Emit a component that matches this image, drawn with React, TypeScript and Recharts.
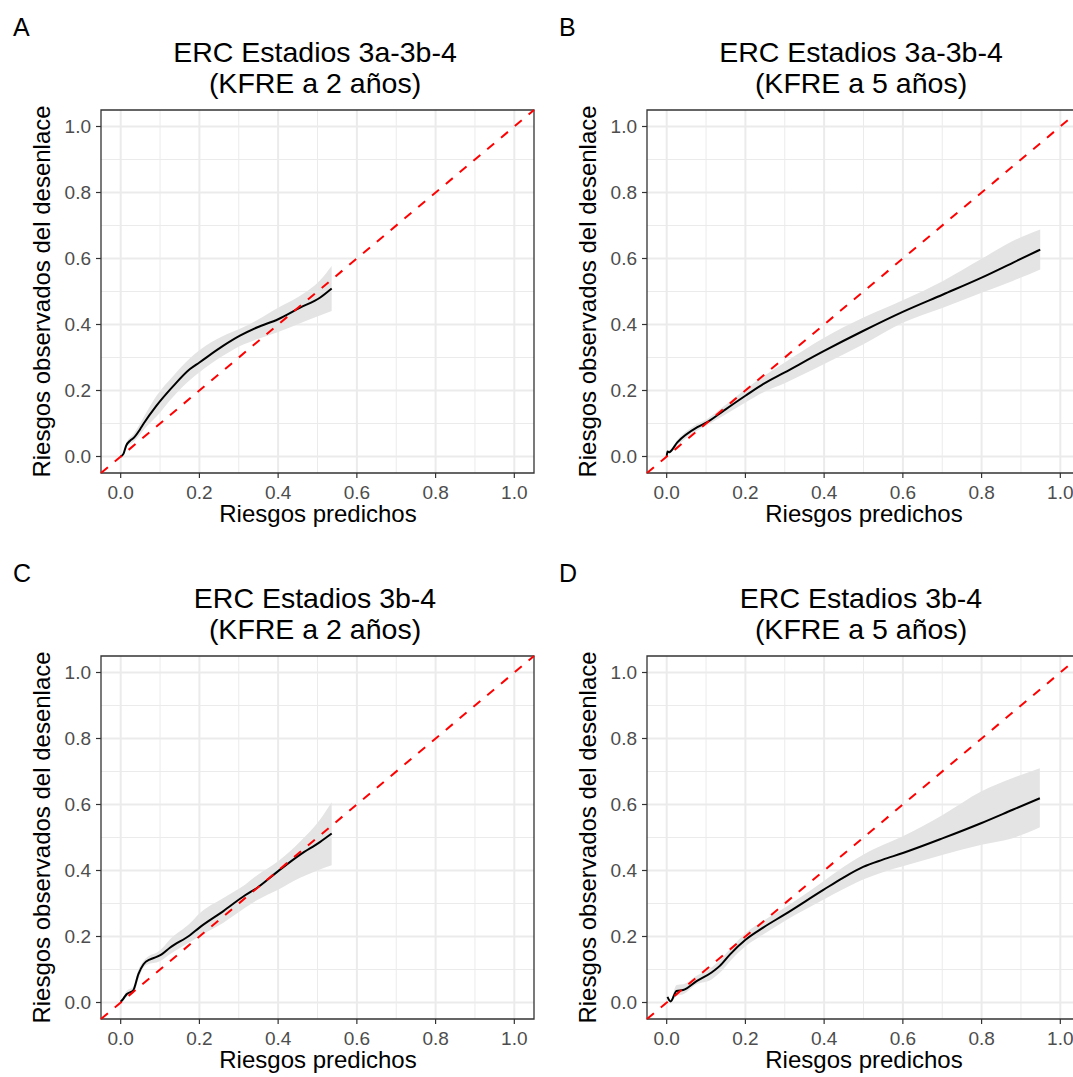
import React from "react";
import {
	Area,
	CartesianGrid,
	ComposedChart,
	Line,
	ReferenceArea,
	ReferenceLine,
	XAxis,
	YAxis,
} from "recharts";

// shared axis setup (both axes are risks on 0..1)
const AXIS_DOMAIN: [number, number] = [-0.05, 1.05];
const MAJOR_TICKS = [0, 0.2, 0.4, 0.6, 0.8, 1.0];
const MINOR_TICKS = [0.1, 0.3, 0.5, 0.7, 0.9];

// A: ERC 3a-3b-4, KFRE 2 años
const predA = [0, 0.007, 0.014, 0.024, 0.032, 0.049, 0.058, 0.091, 0.134, 0.176, 0.2, 0.26, 0.303, 0.346, 0.4, 0.456, 0.506, 0.536];
const obsA = [0, 0.008, 0.033, 0.048, 0.055, 0.082, 0.099, 0.154, 0.214, 0.265, 0.285, 0.335, 0.366, 0.391, 0.416, 0.451, 0.481, 0.509];
const lowA = [0, 0.006, 0.026, 0.038, 0.044, 0.066, 0.08, 0.121, 0.182, 0.232, 0.255, 0.305, 0.335, 0.355, 0.377, 0.404, 0.427, 0.441];
const highA = [0, 0.011, 0.04, 0.058, 0.067, 0.099, 0.118, 0.184, 0.245, 0.298, 0.322, 0.365, 0.387, 0.413, 0.451, 0.487, 0.533, 0.577];

// B: ERC 3a-3b-4, KFRE 5 años
const predB = [0, 0.002, 0.006, 0.027, 0.078, 0.103, 0.145, 0.2, 0.246, 0.3, 0.4, 0.5, 0.601, 0.702, 0.8, 0.879, 0.949];
const obsB = [0, 0.015, 0.013, 0.043, 0.089, 0.104, 0.139, 0.184, 0.22, 0.255, 0.32, 0.381, 0.439, 0.491, 0.542, 0.587, 0.627];
const lowB = [0, 0.01, 0.008, 0.033, 0.079, 0.095, 0.124, 0.164, 0.195, 0.222, 0.28, 0.34, 0.406, 0.451, 0.496, 0.532, 0.567];
const highB = [0, 0.02, 0.018, 0.05, 0.099, 0.114, 0.152, 0.204, 0.243, 0.285, 0.36, 0.421, 0.474, 0.532, 0.599, 0.653, 0.688];

// C: ERC 3b-4, KFRE 2 años
const predC = [0, 0.007, 0.015, 0.032, 0.045, 0.058, 0.075, 0.091, 0.104, 0.125, 0.176, 0.2, 0.261, 0.316, 0.346, 0.4, 0.456, 0.506, 0.536];
const obsC = [0.002, 0.012, 0.025, 0.037, 0.086, 0.116, 0.131, 0.138, 0.146, 0.166, 0.204, 0.227, 0.277, 0.325, 0.347, 0.398, 0.448, 0.486, 0.512];
const lowC = [0, 0.006, 0.017, 0.027, 0.07, 0.106, 0.118, 0.121, 0.128, 0.146, 0.183, 0.201, 0.242, 0.287, 0.31, 0.342, 0.378, 0.403, 0.416];
const highC = [0.004, 0.018, 0.035, 0.048, 0.1, 0.126, 0.143, 0.151, 0.163, 0.191, 0.24, 0.27, 0.317, 0.357, 0.385, 0.428, 0.488, 0.554, 0.607];

// D: ERC 3b-4, KFRE 5 años
const predD = [0.002, 0.01, 0.025, 0.042, 0.076, 0.114, 0.135, 0.161, 0.201, 0.245, 0.3, 0.399, 0.448, 0.499, 0.549, 0.6, 0.702, 0.8, 0.879, 0.948];
const obsD = [0.017, 0.003, 0.035, 0.038, 0.065, 0.091, 0.111, 0.146, 0.191, 0.227, 0.267, 0.342, 0.378, 0.411, 0.433, 0.453, 0.498, 0.544, 0.584, 0.619];
const lowD = [0.012, 0, 0.02, 0.025, 0.055, 0.07, 0.09, 0.125, 0.171, 0.206, 0.247, 0.312, 0.343, 0.373, 0.395, 0.413, 0.448, 0.478, 0.498, 0.531];
const highD = [0.022, 0.008, 0.053, 0.055, 0.081, 0.106, 0.128, 0.162, 0.211, 0.247, 0.287, 0.368, 0.41, 0.448, 0.477, 0.504, 0.569, 0.64, 0.68, 0.71];

type PanelDef = {
	letter: string;
	title: string;
	subtitle: string;
	pred: number[];
	obs: number[];
	low: number[];
	high: number[];
};

const PANELS: PanelDef[] = [
	{letter: "A", title: "ERC Estadios 3a-3b-4", subtitle: "(KFRE a 2 años)", pred: predA, obs: obsA, low: lowA, high: highA},
	{letter: "B", title: "ERC Estadios 3a-3b-4", subtitle: "(KFRE a 5 años)", pred: predB, obs: obsB, low: lowB, high: highB},
	{letter: "C", title: "ERC Estadios 3b-4", subtitle: "(KFRE a 2 años)", pred: predC, obs: obsC, low: lowC, high: highC},
	{letter: "D", title: "ERC Estadios 3b-4", subtitle: "(KFRE a 5 años)", pred: predD, obs: obsD, low: lowD, high: highD},
];

const CELL = 546;
const FONT = "'Liberation Sans', Arial, sans-serif";
const TICK_STYLE = {fontSize: 19, fill: "#4d4d4d"};

const fmt = (v: number) => v.toFixed(1);

function CalibrationPanel({panel}: { panel: PanelDef }) {
	const rows = panel.pred.map((x, i) => ({
		x,
		obs: panel.obs[i],
		band: [panel.low[i], panel.high[i]],
	}));

	return (
		<div style={{position: "relative", width: CELL, height: CELL}}>
			<ComposedChart width={CELL} height={CELL} data={rows} margin={{top: 110, right: 12, left: 0, bottom: 0}}>
				<CartesianGrid stroke="#ebebeb" strokeWidth={1} verticalValues={MINOR_TICKS} horizontalValues={MINOR_TICKS}/>
				<CartesianGrid stroke="#ebebeb" strokeWidth={2} verticalValues={MAJOR_TICKS} horizontalValues={MAJOR_TICKS}/>
				<XAxis
					type="number"
					dataKey="x"
					domain={AXIS_DOMAIN}
					ticks={MAJOR_TICKS}
					interval={0}
					allowDataOverflow
					tickFormatter={fmt}
					height={73}
					tickSize={5}
					tickMargin={8}
					axisLine={false}
					tickLine={{stroke: "#333333", strokeWidth: 1.2}}
					tick={TICK_STYLE}
				/>
				<YAxis
					type="number"
					domain={AXIS_DOMAIN}
					ticks={MAJOR_TICKS}
					interval={0}
					allowDataOverflow
					tickFormatter={fmt}
					width={101}
					tickSize={5}
					tickMargin={5}
					axisLine={false}
					tickLine={{stroke: "#333333", strokeWidth: 1.2}}
					tick={TICK_STYLE}
				/>
				<Area
					type="monotone"
					dataKey="band"
					stroke="none"
					fill="#e4e4e4"
					fillOpacity={1}
					isAnimationActive={false}
				/>
				<Line
					type="monotone"
					dataKey="obs"
					stroke="#000000"
					strokeWidth={2}
					dot={false}
					activeDot={false}
					isAnimationActive={false}
				/>
				<ReferenceLine
					segment={[{x: AXIS_DOMAIN[0], y: AXIS_DOMAIN[0]}, {x: AXIS_DOMAIN[1], y: AXIS_DOMAIN[1]}]}
					stroke="#ff0000"
					strokeWidth={2}
					strokeDasharray="9 9"
				/>
				<ReferenceArea
					x1={AXIS_DOMAIN[0]}
					x2={AXIS_DOMAIN[1]}
					y1={AXIS_DOMAIN[0]}
					y2={AXIS_DOMAIN[1]}
					fill="none"
					fillOpacity={0}
					stroke="#333333"
					strokeWidth={1.3}
				/>
			</ComposedChart>
			<svg width={CELL} height={CELL}
			     style={{position: "absolute", left: 0, top: 0, pointerEvents: "none", fontFamily: FONT}}>
				<text x={13} y={36} fontSize={25} fill="#000">{panel.letter}</text>
				<text x={315} y={62} fontSize={28.5} textAnchor="middle" fill="#000">{panel.title}</text>
				<text x={315} y={93} fontSize={28.5} textAnchor="middle" fill="#000">{panel.subtitle}</text>
				<text x={318} y={522} fontSize={24} textAnchor="middle" fill="#000">Riesgos predichos</text>
				<text x={0} y={0} fontSize={24} textAnchor="middle" fill="#000"
				      transform="translate(49.5 291.5) rotate(-90)">Riesgos observados del desenlace</text>
			</svg>
		</div>
	);
}

export default function App() {
	return (
		<div style={{
			position: "absolute",
			left: 0,
			top: 0,
			width: 1073,
			height: 1077,
			overflow: "hidden",
			background: "#ffffff",
			fontFamily: FONT,
		}}>
			<div style={{display: "flex", flexWrap: "wrap", width: CELL * 2}}>
				{PANELS.map((p) => (
					<CalibrationPanel key={p.letter} panel={p}/>
				))}
			</div>
		</div>
	);
}
